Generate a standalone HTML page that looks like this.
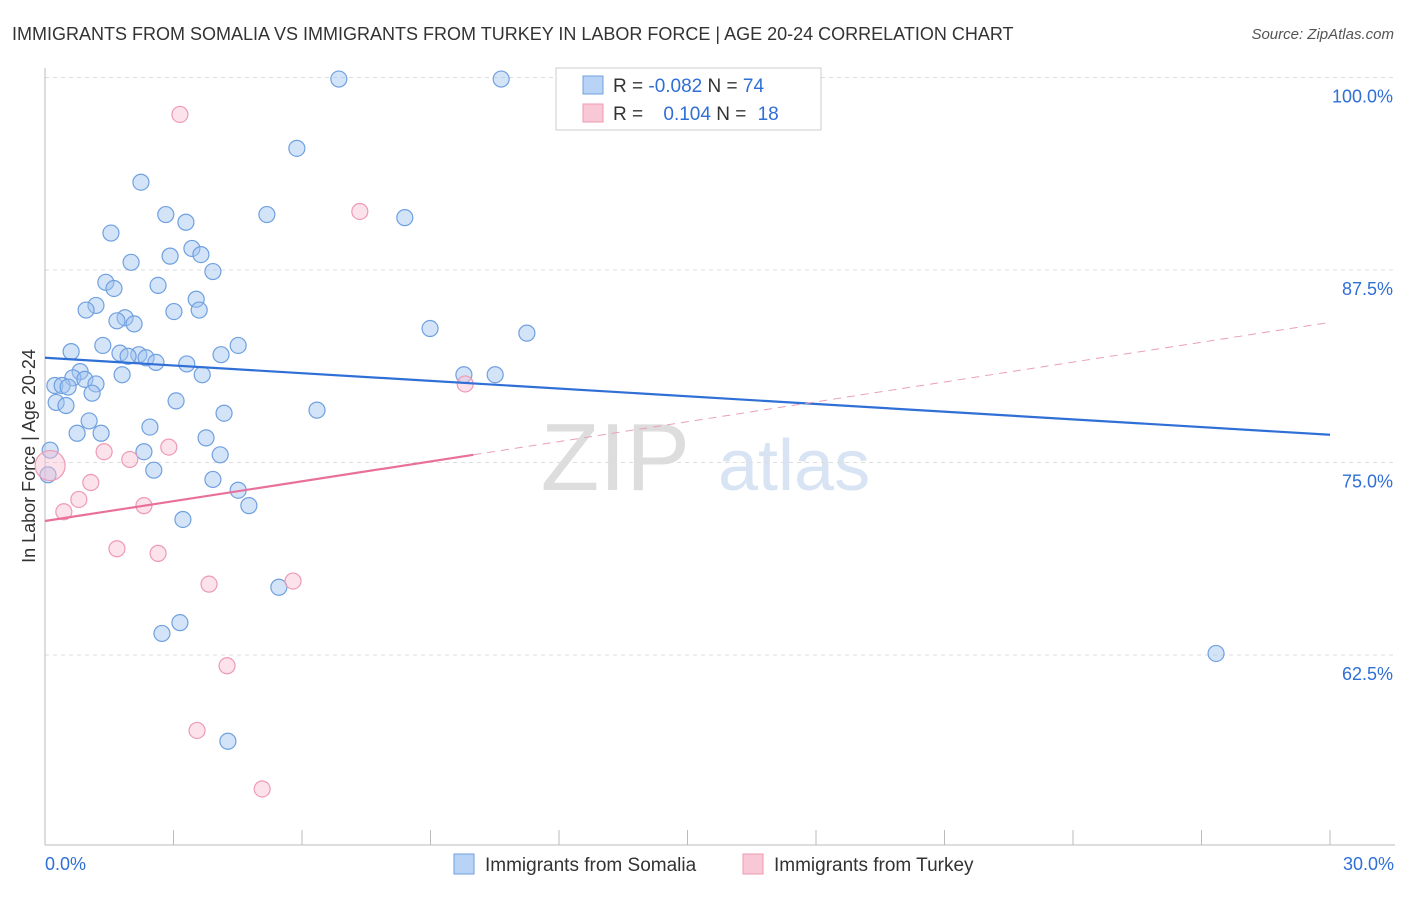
<!DOCTYPE html>
<html><head><meta charset="utf-8"><style>
body{margin:0;background:#fff;font-family:"Liberation Sans",sans-serif}
svg text{font-family:"Liberation Sans",sans-serif}
</style></head><body>
<svg width="1406" height="892" id="c">
<text x="12" y="40" font-size="18" fill="#333">IMMIGRANTS FROM SOMALIA VS IMMIGRANTS FROM TURKEY IN LABOR FORCE | AGE 20-24 CORRELATION CHART</text>
<text x="1394" y="39" font-size="15" fill="#555" text-anchor="end" font-style="italic">Source: ZipAtlas.com</text>
<text x="690" y="490" font-size="96" fill="#ddd" text-anchor="end" font-family="Liberation Serif">ZIP</text>
<text x="718" y="490" font-size="72" fill="#d8e4f4">atlas</text>
<text x="35" y="456" font-size="18" fill="#333" text-anchor="middle" transform="rotate(-90 35 456)">In Labor Force | Age 20-24</text>
<g id="grid"></g><g id="pts"></g>
<g>
<rect x="556" y="68" width="265" height="62" fill="#fff" stroke="#ccc"/>
<rect x="583" y="76" width="20" height="18" fill="#b8d3f5" stroke="#6fa0e0"/>
<rect x="583" y="104" width="20" height="18" fill="#f9c8d6" stroke="#ee9ab3"/>
<text x="613" y="92" font-size="19" fill="#333">R = <tspan fill="#2f6fd6">-0.082</tspan>   N = <tspan fill="#2f6fd6">74</tspan></text>
<text x="613" y="120" font-size="19" fill="#333">R = <tspan fill="#2f6fd6" dx="15">0.104</tspan>   N = <tspan fill="#2f6fd6" dx="6">18</tspan></text>
</g>
<g>
<rect x="454" y="854" width="20" height="20" fill="#b8d3f5" stroke="#6fa0e0"/>
<text x="485" y="871" font-size="19" fill="#333">Immigrants from Somalia</text>
<rect x="743" y="854" width="20" height="20" fill="#f9c8d6" stroke="#ee9ab3"/>
<text x="774" y="871" font-size="19" fill="#333">Immigrants from Turkey</text>
</g>
</svg>
<script>
const xTicks=[0,3,6,9,12,15,18,21,24,27,30];
const yTicks=[62.5,75,87.5,100];
const somaliaX=[6.86,10.65,5.88,2.24,2.82,5.18,8.40,3.29,1.54,3.43,2.92,3.64,2.01,3.92,1.42,2.64,1.61,1.19,3.53,0.96,3.01,3.60,1.87,1.68,2.08,8.99,11.25,4.51,1.35,0.61,1.75,2.19,1.94,2.36,2.59,4.11,3.31,1.80,3.67,9.78,10.51,0.82,0.65,0.93,0.23,0.40,0.54,1.19,1.10,3.06,0.26,0.49,6.35,4.18,1.03,2.45,0.75,1.31,3.76,0.12,2.31,4.09,2.54,0.07,3.92,4.51,4.76,3.22,5.46,3.15,2.73,27.34,4.27];
const somaliaY=[99.9,99.9,95.4,93.2,91.1,91.1,90.9,90.6,89.9,88.9,88.4,88.5,88.0,87.4,86.7,86.5,86.3,85.2,85.6,84.9,84.8,84.9,84.4,84.2,84.0,83.7,83.4,82.6,82.6,82.2,82.1,82.0,81.9,81.8,81.5,82.0,81.4,80.7,80.7,80.7,80.7,80.9,80.5,80.4,80.0,80.0,79.9,80.1,79.5,79.0,78.9,78.7,78.4,78.2,77.7,77.3,76.9,76.9,76.6,75.8,75.7,75.5,74.5,74.2,73.9,73.2,72.2,71.3,66.9,64.6,63.9,62.6,56.9];
const turkeyX=[3.15,7.35,9.81,2.89,1.38,1.98,0.12,1.07,0.79,0.44,2.31,1.68,2.64,3.83,5.79,4.25,3.55,5.07];
const turkeyY=[97.6,91.3,80.1,76.0,75.7,75.2,74.8,73.7,72.6,71.8,72.2,69.4,69.1,67.1,67.3,61.8,57.6,53.8];
const somaliaTrend=[81.8,76.8];
const turkeyTrend=[71.2,84.1];
const turkeySolidEnd=10;
const sx=v=>45+v/30*1285;
const sy=v=>77.5+(100-v)/12.5*192.5;
const NS="http://www.w3.org/2000/svg";
function mk(t,a,p){const e=document.createElementNS(NS,t);for(const k in a)e.setAttribute(k,a[k]);p.appendChild(e);return e;}
const g=document.getElementById('grid'),P=document.getElementById('pts');
yTicks.forEach(v=>{
 const l=mk('line',{x1:45,x2:1395,y1:sy(v),y2:sy(v),stroke:'#ddd','stroke-dasharray':'4,4'},g);
 
 
 const t=mk('text',{x:1393,y:sy(v)+25,'font-size':18,fill:'#2f6fd6','text-anchor':'end'},g);
 t.textContent=v.toFixed(1)+'%';
 
 
});
mk('line',{x1:45,x2:45,y1:68,y2:845,stroke:'#bbb'},g);
mk('line',{x1:45,x2:1395,y1:845,y2:845,stroke:'#bbb'},g);
xTicks.forEach(v=>{
 const l=mk('line',{x1:sx(v),x2:sx(v),y1:830,y2:845,stroke:'#bbb'},g);
 
 
});
[[0,45,'start'],[30,1394,'end']].forEach(([v,x,a])=>{
 const t=mk('text',{x:x,y:870,'font-size':18,fill:'#2f6fd6','text-anchor':a},g);
 t.textContent=v.toFixed(1)+'%';
 
 
});
somaliaX.forEach((x,i)=>{
 const c=mk('circle',{cx:sx(x),cy:sy(somaliaY[i]),r:8,fill:'rgba(160,196,240,0.45)',stroke:'#6fa0e0','stroke-width':1.2},P);
 
 
});
turkeyX.forEach((x,i)=>{
 const c=mk('circle',{cx:sx(x),cy:sy(turkeyY[i]),r:i==6?15:8,fill:'rgba(248,190,208,0.45)',stroke:'#ee9ab3','stroke-width':1.2},P);
 
 
});
const tl=v=>turkeyTrend[0]+(turkeyTrend[1]-turkeyTrend[0])*v/30;
let l=mk('line',{x1:sx(0),y1:sy(somaliaTrend[0]),x2:sx(30),y2:sy(somaliaTrend[1]),stroke:'#2f6fd6','stroke-width':2.2},P);


l=mk('line',{x1:sx(0),y1:sy(tl(0)),x2:sx(turkeySolidEnd),y2:sy(tl(turkeySolidEnd)),stroke:'#e8709a','stroke-width':2.2},P);


l=mk('line',{x1:sx(turkeySolidEnd),y1:sy(tl(turkeySolidEnd)),x2:sx(30),y2:sy(tl(30)),stroke:'#e8a0b8','stroke-width':1,'stroke-dasharray':'8,6'},P);


</script>
</body></html>
